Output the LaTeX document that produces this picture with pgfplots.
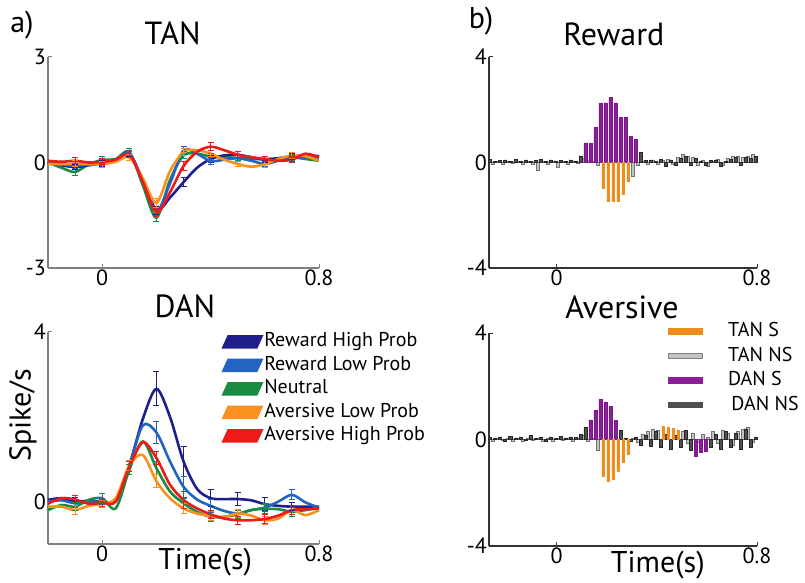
\documentclass[border=0pt]{standalone}
\usepackage{fontspec}
\setmainfont{PT Sans}
\usepackage{pgfplots}
\usepackage{pgfplotstable}
\pgfplotsset{compat=1.18}

\definecolor{cNavy}{RGB}{30,30,140}
\definecolor{cBlue}{RGB}{35,100,195}
\definecolor{cGreen}{RGB}{25,140,65}
\definecolor{cOrange}{RGB}{250,145,30}
\definecolor{cRed}{RGB}{240,25,25}
\definecolor{cPurple}{RGB}{140,30,155}
\definecolor{cPurpleD}{RGB}{120,25,135}
\definecolor{cTanS}{RGB}{240,140,30}
\definecolor{cDarkNS}{RGB}{80,80,80}
\definecolor{cLightNS}{RGB}{195,195,195}

\newcommand\tickfont{\fontsize{22}{24}\selectfont}
\newcommand\titlefont{\fontsize{32}{36}\selectfont}
\newcommand\labfont{\fontsize{30}{34}\selectfont}
\newcommand\legfont{\fontsize{20}{22}\selectfont}

% TAN population responses
\pgfplotstableread{
t     navy  blue  green orange red
-0.20  0.00  0.02  0.00 -0.04  0.05
-0.15 -0.08 -0.05 -0.15 -0.05  0.02
-0.10 -0.13 -0.10 -0.27 -0.03  0.05
-0.05 -0.08 -0.05 -0.05 -0.05  0.00
 0.00 -0.02  0.00  0.07 -0.05  0.02
 0.05  0.08  0.08  0.10  0.02  0.08
 0.10  0.25  0.27  0.30  0.15  0.23
 0.15 -0.50 -0.55 -0.65 -0.45 -0.55
 0.20 -1.36 -1.40 -1.57 -1.15 -1.42
 0.25 -1.00 -0.60 -0.50 -0.25 -0.85
 0.30 -0.56  0.34  0.20  0.30 -0.10
 0.35 -0.15  0.25  0.25  0.35  0.30
 0.40  0.10  0.04  0.17  0.25  0.45
 0.45  0.20  0.08  0.15  0.08  0.35
 0.50  0.22  0.12  0.13 -0.04  0.22
 0.55  0.15  0.05  0.10 -0.12  0.15
 0.60  0.08 -0.04  0.10 -0.05  0.10
 0.65  0.12  0.05  0.12  0.10  0.05
 0.70  0.17  0.12  0.15  0.20  0.08
 0.75  0.20  0.15  0.10  0.18  0.25
 0.80  0.18  0.12  0.05  0.05  0.15
}\tanData

\pgfplotstableread{
t     navy  navyE blue  blueE green greenE orange orangeE red   redE
-0.10 -0.13 0.08  -0.10 0.08  -0.27 0.10   -0.03  0.08    0.05  0.08
 0.00 -0.02 0.08   0.00 0.08   0.07 0.10   -0.05  0.08    0.02  0.08
 0.10  0.25 0.08   0.27 0.08   0.30 0.10    0.15  0.08    0.23  0.08
 0.20 -1.36 0.12  -1.40 0.12  -1.57 0.12   -1.15  0.12   -1.42  0.12
 0.30 -0.56 0.12   0.34 0.12   0.20 0.10    0.30  0.10   -0.10  0.12
 0.40  0.10 0.10   0.04 0.10   0.17 0.08    0.25  0.08    0.45  0.12
 0.50  0.22 0.08   0.12 0.08   0.13 0.08   -0.04  0.08    0.22  0.08
 0.60  0.08 0.08  -0.04 0.08   0.10 0.08   -0.05  0.08    0.10  0.08
 0.70  0.17 0.08   0.12 0.08   0.15 0.08    0.20  0.08    0.08  0.08
}\tanErr

% DAN population responses
\pgfplotstableread{
t     navy  blue  green orange red
-0.20  0.04  0.00 -0.20 -0.12 -0.05
-0.15  0.08  0.03 -0.08 -0.12  0.08
-0.10  0.00 -0.04 -0.12 -0.20  0.05
-0.05  0.02  0.00  0.04 -0.10 -0.05
 0.00  0.00  0.00  0.08 -0.05 -0.03
 0.05  0.04  0.04 -0.16  0.08  0.00
 0.10  0.85  0.85  0.75  0.85  0.82
 0.15  1.95  1.80  1.42  1.10  1.40
 0.20  2.66  1.63  0.79  0.48  1.03
 0.25  2.00  0.95  0.24  0.08  0.40
 0.30  0.95  0.35 -0.04 -0.16  0.04
 0.35  0.30  0.05 -0.24 -0.28 -0.16
 0.40  0.08 -0.10 -0.36 -0.34 -0.30
 0.45  0.06 -0.22 -0.36 -0.36 -0.40
 0.50  0.06 -0.28 -0.30 -0.28 -0.44
 0.55  0.03 -0.20 -0.20 -0.33 -0.44
 0.60 -0.06 -0.14 -0.17 -0.44 -0.41
 0.65 -0.10  0.00 -0.18 -0.40 -0.33
 0.70 -0.12  0.16 -0.24 -0.20 -0.20
 0.75 -0.12 -0.02 -0.20 -0.32 -0.18
 0.80 -0.12 -0.14 -0.15 -0.20 -0.16
}\danData

\pgfplotstableread{
t     navy  navyE blue  blueE green greenE orange orangeE red   redE
-0.10  0.00 0.10  -0.04 0.10  -0.12 0.10   -0.20  0.10    0.05  0.10
 0.00  0.00 0.08   0.00 0.08   0.08 0.10   -0.05  0.08   -0.03  0.08
 0.10  0.85 0.12   0.85 0.12   0.75 0.12    0.85  0.12    0.82  0.12
 0.20  2.66 0.40   1.63 0.25   0.79 0.15    0.48  0.15    1.03  0.15
 0.30  0.95 0.35   0.35 0.25  -0.04 0.12   -0.16  0.12    0.04  0.20
 0.40  0.08 0.20  -0.10 0.15  -0.36 0.12   -0.34  0.10   -0.30  0.10
 0.50  0.06 0.15  -0.28 0.10  -0.30 0.10   -0.28  0.10   -0.44  0.10
 0.60 -0.06 0.15  -0.14 0.10  -0.17 0.10   -0.44  0.10   -0.41  0.10
 0.70 -0.12 0.10   0.16 0.12  -0.24 0.10   -0.20  0.10   -0.20  0.10
}\danErr

% Panel b: Reward
\pgfplotstableread{
x y
-0.265 0.12
-0.245 0.05
-0.225 0.08
-0.205 0.10
-0.185 0.04
-0.165 0.12
-0.145 0.06
-0.125 0.10
-0.105 0.05
-0.085 0.08
-0.065 0.12
-0.045 0.05
-0.025 0.10
-0.005 0.06
0.015 0.09
0.035 0.04
0.055 0.10
0.075 0.06
0.095 0.25
0.335 0.37
0.355 0.08
0.375 0.10
0.395 0.05
0.415 0.12
0.435 -0.15
0.455 0.10
0.475 -0.12
0.495 0.15
0.515 0.22
0.535 -0.10
0.555 0.15
0.575 0.05
0.595 -0.12
0.615 0.08
0.635 0.10
0.655 -0.15
0.675 0.05
0.695 0.12
0.715 0.20
0.735 -0.10
0.755 0.20
0.775 0.15
0.795 0.22
}\rewDanNS
\pgfplotstableread{
x y
0.115 0.74
0.135 0.72
0.155 1.34
0.175 2.26
0.195 2.26
0.215 2.47
0.235 2.26
0.255 1.72
0.275 1.72
0.295 1.00
0.315 0.87
}\rewDanS
\pgfplotstableread{
x y
-0.255 -0.08
-0.235 0.05
-0.215 -0.05
-0.195 0.06
-0.175 -0.04
-0.155 0.05
-0.135 -0.06
-0.115 0.04
-0.095 -0.08
-0.075 -0.30
-0.055 0.05
-0.035 -0.06
-0.015 0.04
0.005 -0.20
0.025 0.05
0.045 -0.05
0.065 0.06
0.085 -0.04
0.105 0.15
0.125 0.10
0.145 0.05
0.165 -0.10
0.305 -0.52
0.325 -0.10
0.345 0.06
0.365 -0.05
0.385 0.10
0.405 -0.06
0.425 0.08
0.445 0.12
0.465 -0.08
0.485 0.20
0.505 0.30
0.525 0.25
0.545 0.20
0.565 -0.10
0.585 0.10
0.605 -0.15
0.625 0.05
0.645 0.12
0.665 -0.10
0.685 0.15
0.705 0.22
0.725 0.25
0.745 0.20
0.765 0.25
0.785 0.30
}\rewTanNS
\pgfplotstableread{
x y
0.185 -0.96
0.205 -1.46
0.225 -1.46
0.245 -1.46
0.265 -1.21
0.285 -0.71
}\rewTanS

% Panel b: Aversive
\pgfplotstableread{
x y
-0.265 0.08
-0.245 0.04
-0.225 0.10
-0.205 -0.05
-0.185 0.12
-0.165 0.06
-0.145 0.10
-0.125 -0.04
-0.105 0.14
-0.085 0.05
-0.065 0.08
-0.045 -0.06
-0.025 0.10
-0.005 0.04
0.015 0.12
0.035 0.06
0.055 0.10
0.075 0.08
0.095 0.20
0.115 0.47
0.255 0.34
0.275 0.05
0.295 -0.05
0.315 0.08
0.335 -0.20
0.355 0.15
0.375 -0.25
0.395 0.30
0.415 -0.30
0.435 0.20
0.455 -0.35
0.475 0.15
0.495 -0.30
0.515 0.35
0.535 -0.40
0.615 -0.30
0.635 0.20
0.655 -0.35
0.675 0.30
0.695 -0.30
0.715 0.25
0.735 -0.35
0.755 0.40
0.775 -0.30
0.795 0.10
}\avDanNS
\pgfplotstableread{
x y
0.135 0.74
0.155 1.10
0.175 1.50
0.195 1.41
0.215 1.25
0.235 0.72
0.555 -0.64
0.575 -0.48
0.595 -0.44
}\avDanS
\pgfplotstableread{
x y
-0.255 -0.06
-0.235 0.05
-0.215 -0.04
-0.195 0.06
-0.175 -0.08
-0.155 0.04
-0.135 -0.05
-0.115 0.06
-0.095 -0.04
-0.075 0.05
-0.055 -0.06
-0.035 0.04
-0.015 -0.05
0.005 0.05
0.025 -0.04
0.045 0.06
0.065 -0.05
0.085 0.05
0.105 0.15
0.125 -0.05
0.145 0.05
0.165 -0.42
0.305 0.05
0.325 -0.10
0.345 0.20
0.365 0.30
0.385 0.40
0.405 0.35
0.505 0.30
0.525 -0.15
0.545 0.25
0.565 -0.10
0.585 0.20
0.605 0.10
0.625 0.30
0.645 -0.15
0.665 0.35
0.685 0.25
0.705 -0.20
0.725 0.30
0.745 0.40
0.765 0.45
0.785 -0.10
}\avTanNS
\pgfplotstableread{
x y
0.185 -1.36
0.205 -1.55
0.225 -1.48
0.245 -1.17
0.265 -0.86
0.285 -0.54
0.425 0.50
0.445 0.45
0.465 0.42
0.485 0.36
}\avTanS

\pgfplotsset{
  commonax/.style={
    scale only axis, anchor=south west, clip=false,
    axis lines=left, axis line style={-, line width=1.4pt},
    tick align=inside, major tick length=4pt,
    ticklabel style={font=\tickfont},
    /pgf/number format/assume math mode=true,
    yticklabel style={inner sep=2pt},
    xticklabel style={inner sep=2pt},
    enlargelimits=false,
    title style={font=\titlefont, anchor=center},
    xlabel style={font=\labfont, anchor=center},
    ylabel style={font=\labfont, anchor=center},
  },
  panelA/.style={commonax, width=271pt, xmin=-0.2, xmax=0.8, xtick={0,0.8},
    axis line style={gray}, tick style={gray, line width=1pt}},
  panelB/.style={commonax, width=268pt, xmin=-0.27, xmax=0.8, xtick={0,0.8},
    ymin=-4, ymax=4, ytick={-4,0,4},
    axis line style={black!80}, tick style={black!80, line width=1pt}},
  curve/.style={line width=2.6pt, smooth, tension=0.5},
  pgram/.style={legend image code/.code={\fill[##1] (0pt,-5.5pt) -- (33pt,-5.5pt) -- (38pt,5.5pt) -- (5pt,5.5pt) -- cycle;}},
  nsbar/.style={ybar, bar shift=0pt, bar width=0.012, line width=0.6pt, forget plot},
}

\newcommand\errplot[4]{%
  \addplot[draw=none, forget plot, error bars/.cd, y dir=both, y explicit,
    error bar style={draw=#1, line width=1pt, solid},
    error mark=-,
    error mark options={draw=#1, rotate=90, mark size=3pt, line width=1pt, solid}]
    table[x=t, y=#2, y error=#3] {#4};}

\begin{document}
\begin{tikzpicture}
\path[use as bounding box] (0pt,0pt) rectangle (805pt,583pt);

% ---------------- a) TAN
\begin{axis}[panelA, at={(48pt,315pt)}, height=211pt,
  ymin=-3, ymax=3, ytick={-3,0,3},
  title={TAN}, title style={at={(0.46,1.085)}}]
\addplot[curve, cGreen] table[x=t, y=green] {\tanData};
\addplot[curve, cNavy] table[x=t, y=navy] {\tanData};
\addplot[curve, cBlue] table[x=t, y=blue] {\tanData};
\addplot[curve, cOrange] table[x=t, y=orange] {\tanData};
\addplot[curve, cRed] table[x=t, y=red] {\tanData};
\errplot{cGreen}{green}{greenE}{\tanErr}
\errplot{cNavy}{navy}{navyE}{\tanErr}
\errplot{cBlue}{blue}{blueE}{\tanErr}
\errplot{cOrange}{orange}{orangeE}{\tanErr}
\errplot{cRed}{red}{redE}{\tanErr}
\node[font=\labfont] at (axis description cs:-0.096,1.152) {a)};
\end{axis}

% ---------------- a) DAN
\begin{axis}[panelA, at={(48pt,39pt)}, height=212pt,
  ymin=-1, ymax=4, ytick={0,4},
  title={DAN}, title style={at={(0.505,1.094)}},
  xlabel={Time(s)}, xlabel style={at={(0.58,-0.085)}},
  ylabel={Spike/s}, ylabel style={at={(-0.092,0.608)}},
  legend cell align=left,
  legend style={at={(0.642,1.01)}, anchor=north west, draw=none, fill=none,
    font=\legfont, inner sep=0pt, row sep=0pt,
    nodes={inner sep=1.5pt, text height=15pt, text depth=5.5pt}}]
\addplot[curve, cNavy, pgram] table[x=t, y=navy] {\danData};
\addlegendentry{Reward High Prob}
\addplot[curve, cBlue, pgram] table[x=t, y=blue] {\danData};
\addlegendentry{Reward Low Prob}
\addplot[curve, cGreen, pgram] table[x=t, y=green] {\danData};
\addlegendentry{Neutral}
\addplot[curve, cOrange, pgram] table[x=t, y=orange] {\danData};
\addlegendentry{Aversive Low Prob}
\addplot[curve, cRed, pgram] table[x=t, y=red] {\danData};
\addlegendentry{Aversive High Prob}
\errplot{cNavy}{navy}{navyE}{\danErr}
\errplot{cBlue}{blue}{blueE}{\danErr}
\errplot{cGreen}{green}{greenE}{\danErr}
\errplot{cOrange}{orange}{orangeE}{\danErr}
\errplot{cRed}{red}{redE}{\danErr}
\end{axis}

% ---------------- b) Reward
\begin{axis}[panelB, at={(489pt,315pt)}, height=211pt,
  title={Reward}, title style={at={(0.466,1.08)}}]
\addplot[black!85, line width=1pt, forget plot] coordinates {(-0.27,0) (0.8,0)};
\addplot[nsbar, fill=cLightNS, draw=gray!90!black] table[x=x,y=y] {\rewTanNS};
\addplot[nsbar, fill=cDarkNS, draw=black!85] table[x=x,y=y] {\rewDanNS};
\addplot[ybar, bar shift=0pt, bar width=0.0125, fill=cPurple, draw=cPurpleD, line width=0.4pt, forget plot] table[x=x,y=y] {\rewDanS};
\addplot[ybar, bar shift=0pt, bar width=0.009, fill=cTanS, draw=cTanS, line width=0.3pt, forget plot] table[x=x,y=y] {\rewTanS};
\node[font=\labfont] at (axis description cs:-0.03,1.17) {b)};
\end{axis}

% ---------------- b) Aversive
\begin{axis}[panelB, at={(489pt,37pt)}, height=213pt,
  title={Aversive}, title style={at={(0.496,1.094)}},
  xlabel={Time(s)}, xlabel style={at={(0.63,-0.09)}},
  legend cell align=left,
  legend style={at={(0.668,1.065)}, anchor=north west, draw=none, fill=none,
    font=\legfont, inner sep=0pt, row sep=0pt,
    nodes={inner sep=1.5pt, text height=16pt, text depth=5.5pt}}]
\addplot[black!85, line width=1pt, forget plot] coordinates {(-0.27,0) (0.8,0)};
\addplot[nsbar, fill=cLightNS, draw=gray!90!black] table[x=x,y=y] {\avTanNS};
\addplot[nsbar, fill=cDarkNS, draw=black!85] table[x=x,y=y] {\avDanNS};
\addplot[ybar, bar shift=0pt, bar width=0.0125, fill=cPurple, draw=cPurpleD, line width=0.4pt, forget plot] table[x=x,y=y] {\avDanS};
\addplot[ybar, bar shift=0pt, bar width=0.009, fill=cTanS, draw=cTanS, line width=0.3pt, forget plot] table[x=x,y=y] {\avTanS};
\addlegendimage{legend image code/.code={\fill[cTanS] (0pt,-3pt) rectangle (34pt,3pt); \path[draw=none,fill=none] (0pt,0pt) -- (58pt,0pt);}}
\addlegendentry{TAN S}
\addlegendimage{legend image code/.code={\filldraw[fill=cLightNS, draw=gray, line width=0.8pt] (0pt,-2.5pt) rectangle (34pt,2.5pt); \path[draw=none,fill=none] (0pt,0pt) -- (58pt,0pt);}}
\addlegendentry{TAN NS}
\addlegendimage{legend image code/.code={\fill[cPurple] (0pt,-3pt) rectangle (34pt,3pt); \path[draw=none,fill=none] (0pt,0pt) -- (58pt,0pt);}}
\addlegendentry{DAN S}
\addlegendimage{legend image code/.code={\fill[cDarkNS] (0pt,-2.5pt) rectangle (34pt,2.5pt); \path[draw=none,fill=none] (0pt,0pt) -- (58pt,0pt);}}
\addlegendentry{\,DAN NS}
\end{axis}
\end{tikzpicture}
\end{document}
